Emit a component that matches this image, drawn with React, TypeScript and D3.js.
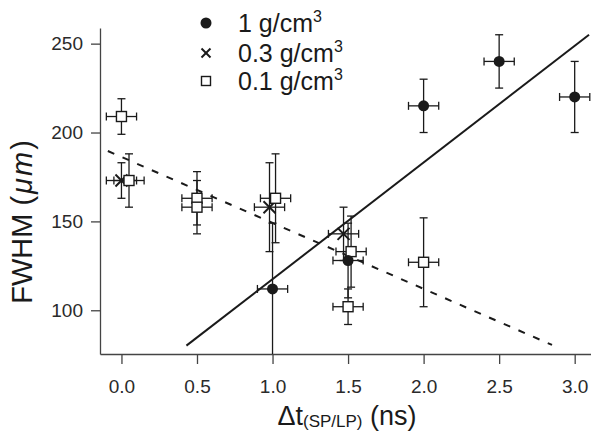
import React, { useEffect, useRef } from 'react';
import * as d3 from 'd3';

const W = 591;
const H = 431;

// axis extents (data units)
const xDomain = [-0.142, 3.108];
const yDomain = [75.4, 258.8];
const xTicks = [0, 0.5, 1.0, 1.5, 2.0, 2.5, 3.0];
const yTicks = [100, 150, 200, 250];

// 1 g/cm3 (filled circles)
const denseX = [1.0, 1.5, 2.0, 2.5, 3.0];
const denseY = [112, 128, 215, 240, 220];
const denseYErr = [37, 21, 15, 15, 20];
const denseXErr = [0.1, 0.1, 0.1, 0.1, 0.1];

// 0.3 g/cm3 (crosses)
const midX = [0.0, 0.98, 1.47];
const midY = [173, 158, 143];
const midYErr = [10, 25, 15];
const midXErr = [0.1, 0.1, 0.1];

// 0.1 g/cm3 (open squares)
const lowX = [0.0, 0.05, 0.5, 0.5, 1.02, 1.52, 1.5, 2.0];
const lowY = [209, 173, 163, 158, 163, 133, 102, 127];
const lowYErr = [10, 15, 15, 15, 25, 20, 10, 25];
const lowXErr = [0.1, 0.1, 0.1, 0.1, 0.1, 0.1, 0.1, 0.1];

// fit lines
const fitSolidX = [0.43, 3.095];
const fitSolidY = [80.1, 255];
const fitDashX = [-0.09, 2.85];
const fitDashY = [189.6, 80.5];

const legendLabels = ['1 g/cm', '0.3 g/cm', '0.1 g/cm'];

const FONT = '"Liberation Sans", Arial, sans-serif';

export default function App() {
  const ref = useRef<SVGSVGElement>(null);

  useEffect(() => {
    const svg = d3.select(ref.current);
    svg.selectAll('*').remove();

    const left = 100, right = W, top = 28, bottom = 354;
    const x = d3.scaleLinear().domain(xDomain).range([left, right]);
    const y = d3.scaleLinear().domain(yDomain).range([bottom, top]);

    const ink = '#1a1a1a';

    svg.append('defs').append('clipPath').attr('id', 'plotclip')
      .append('rect').attr('x', left).attr('y', 0).attr('width', right - left).attr('height', bottom);

    // axes
    const yAxis = d3.axisLeft(y).tickValues(yTicks).tickSize(9).tickSizeOuter(0).tickPadding(8)
      .tickFormat(d3.format('d'));
    const gy = svg.append('g').attr('transform', `translate(${left},0)`).call(yAxis);
    const xAxis = d3.axisBottom(x).tickValues(xTicks).tickSize(10).tickSizeOuter(0).tickPadding(16)
      .tickFormat(d3.format('.1f'));
    const gx = svg.append('g').attr('transform', `translate(0,${bottom})`).call(xAxis);
    [gx, gy].forEach((g) => {
      g.select('.domain').attr('stroke', '#444').attr('stroke-width', 1.3);
      g.selectAll('.tick line').attr('stroke', '#444').attr('stroke-width', 1.3);
      g.selectAll('.tick text').attr('fill', '#2a2a2a').style('font-family', FONT).style('font-size', '19px');
    });

    const plot = svg.append('g').attr('clip-path', 'url(#plotclip)');

    // fit lines
    const line = d3.line<[number, number]>().x((d) => x(d[0])).y((d) => y(d[1]));
    plot.append('path')
      .attr('d', line(fitSolidX.map((v, i) => [v, fitSolidY[i]] as [number, number])))
      .attr('stroke', ink).attr('stroke-width', 2).attr('fill', 'none');
    plot.append('path')
      .attr('d', line(fitDashX.map((v, i) => [v, fitDashY[i]] as [number, number])))
      .attr('stroke', ink).attr('stroke-width', 2).attr('fill', 'none').attr('stroke-dasharray', '7 9');

    const cap = 4;
    const errorBars = (xs: number[], ys: number[], ye: number[], xe: number[]) => {
      xs.forEach((xv, i) => {
        const cx = x(xv), cy = y(ys[i]);
        const y0 = y(ys[i] - ye[i]), y1 = y(ys[i] + ye[i]);
        const x0 = x(xv - xe[i]), x1 = x(xv + xe[i]);
        const g = plot.append('g').attr('stroke', ink).attr('stroke-width', 1.3);
        g.append('line').attr('x1', cx).attr('x2', cx).attr('y1', y0).attr('y2', y1);
        g.append('line').attr('x1', cx - cap).attr('x2', cx + cap).attr('y1', y0).attr('y2', y0);
        g.append('line').attr('x1', cx - cap).attr('x2', cx + cap).attr('y1', y1).attr('y2', y1);
        g.append('line').attr('x1', x0).attr('x2', x1).attr('y1', cy).attr('y2', cy);
        g.append('line').attr('x1', x0).attr('x2', x0).attr('y1', cy - cap).attr('y2', cy + cap);
        g.append('line').attr('x1', x1).attr('x2', x1).attr('y1', cy - cap).attr('y2', cy + cap);
      });
    };
    errorBars(denseX, denseY, denseYErr, denseXErr);
    errorBars(midX, midY, midYErr, midXErr);
    errorBars(lowX, lowY, lowYErr, lowXErr);

    const drawCircle = (g: any, cx: number, cy: number) =>
      g.append('circle').attr('cx', cx).attr('cy', cy).attr('r', 5.5).attr('fill', ink);
    const drawCross = (g: any, cx: number, cy: number, s = 6) => {
      g.append('line').attr('x1', cx - s).attr('x2', cx + s).attr('y1', cy - s).attr('y2', cy + s)
        .attr('stroke', ink).attr('stroke-width', 2);
      g.append('line').attr('x1', cx - s).attr('x2', cx + s).attr('y1', cy + s).attr('y2', cy - s)
        .attr('stroke', ink).attr('stroke-width', 2);
    };
    const drawSquare = (g: any, cx: number, cy: number, s = 5) =>
      g.append('rect').attr('x', cx - s).attr('y', cy - s).attr('width', 2 * s).attr('height', 2 * s)
        .attr('fill', '#fff').attr('stroke', ink).attr('stroke-width', 1.4);

    midX.forEach((v, i) => drawCross(plot, x(v), y(midY[i])));
    lowX.forEach((v, i) => drawSquare(plot, x(v), y(lowY[i])));
    denseX.forEach((v, i) => drawCircle(plot, x(v), y(denseY[i])));

    // legend
    const lg = svg.append('g');
    const rows = [23, 53, 81];
    drawCircle(lg, 206, rows[0]);
    drawCross(lg, 206, rows[1], 4.5);
    drawSquare(lg, 206, rows[2], 4.5);
    legendLabels.forEach((t, i) => {
      const tx = lg.append('text').attr('x', 238).attr('y', rows[i] + 9)
        .style('font-family', FONT).style('font-size', '25px').attr('fill', ink);
      tx.append('tspan').text(t);
      tx.append('tspan').text('3').attr('dy', -10).style('font-size', '16px');
    });

    // y title
    const yt = svg.append('text')
      .attr('transform', 'translate(32,222) rotate(-90)')
      .attr('text-anchor', 'middle')
      .style('font-family', FONT).style('font-size', '29px').attr('fill', ink);
    yt.append('tspan').text('FWHM ');
    yt.append('tspan').text('(').style('letter-spacing', '2px');
    yt.append('tspan').text('μm').style('font-style', 'italic').style('letter-spacing', '2px');
    yt.append('tspan').text(')');

    // x title
    const xt = svg.append('text').attr('x', 347).attr('y', 425).attr('text-anchor', 'middle')
      .style('font-family', FONT).style('font-size', '27px').attr('fill', ink);
    xt.append('tspan').text('Δt');
    xt.append('tspan').text('(SP/LP)').attr('dy', 2).style('font-size', '17px');
    xt.append('tspan').text(' (ns)').attr('dy', -2);
  }, []);

  return (
    <svg ref={ref} width={W} height={H}
      style={{ position: 'absolute', left: 0, top: 0, background: '#fff' }} />
  );
}
